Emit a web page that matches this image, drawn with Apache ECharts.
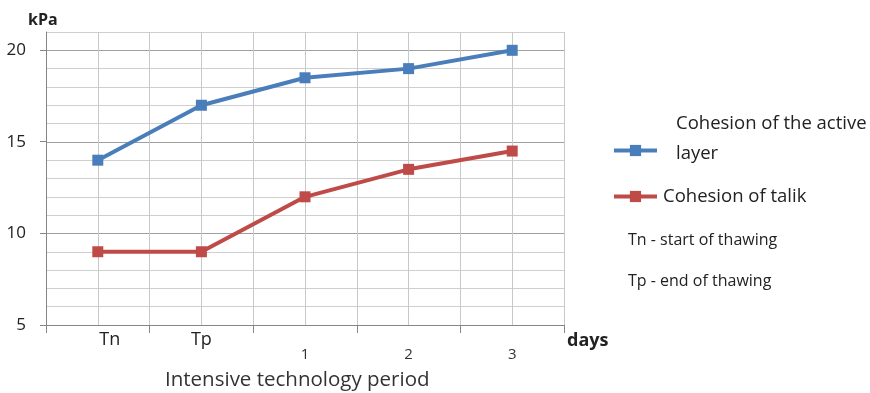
<!DOCTYPE html>
<html>
<head>
<meta charset="utf-8">
<script src="https://cdn.jsdelivr.net/npm/echarts@6/dist/echarts.min.js"></script>
<style>
  html, body { margin: 0; padding: 0; background: #fff; }
  #chart { width: 870px; height: 393px; }
</style>
</head>
<body>
<div id="chart"></div>
<script>
// Stages of the thawing period and the days that follow
const categories = ['Tn', 'Tp', '1', '2', '3'];
// Cohesion values, kPa
const activeLayer = [14, 17, 18.5, 19, 20];
const talik = [9, 9, 12, 13.5, 14.5];
const yTickLabels = [5, 10, 15, 20];

const seriesNames = ['Cohesion of the active layer', 'Cohesion of talik'];
const FONT = '"Open Sans", "Noto Sans", sans-serif';
const BLUE = '#4a7ebb';
const RED = '#be4b48';

const chart = echarts.init(document.getElementById('chart'), null, { renderer: 'canvas' });

const gridPos = { left: 46, right: 306, bottom: 68 };

chart.setOption({
  animation: false,
  backgroundColor: '#fff',
  textStyle: { fontFamily: FONT },
  grid: [
    Object.assign({ top: 32 }, gridPos),
    Object.assign({ top: 50 }, gridPos)
  ],
  xAxis: [
    {
      type: 'category',
      gridIndex: 0,
      data: categories,
      boundaryGap: true,
      axisLine: { lineStyle: { color: '#868686', width: 1 } },
      axisTick: { show: true, length: 8, lineStyle: { color: '#868686' } },
      splitLine: { show: false },
      axisLabel: {
        margin: 4,
        formatter: function (v) {
          if (v === 'Tn') return '{tn|' + v + '}';
          return /^\d+$/.test(v) ? '{num|' + v + '}' : '{stage|' + v + '}';
        },
        rich: {
          stage: { fontSize: 18, lineHeight: 22, color: '#222', fontFamily: FONT },
          tn: { fontSize: 18, lineHeight: 22, color: '#222', fontFamily: FONT, padding: [0, 0, 0, 24] },
          num: { fontSize: 15, lineHeight: 22, color: '#333', fontFamily: FONT, padding: [30, 0, 0, 0] }
        }
      }
    },
    {
      // vertical grid lines every half category
      type: 'value',
      gridIndex: 0,
      min: 0,
      max: 10,
      interval: 1,
      position: 'top',
      axisLine: { show: false },
      axisTick: { show: false },
      axisLabel: { show: false },
      splitLine: { show: true, lineStyle: { color: '#c8c8c8', width: 1 } }
    },
    {
      type: 'value',
      gridIndex: 1,
      show: false
    }
  ],
  yAxis: [
    {
      type: 'value',
      gridIndex: 0,
      min: 5,
      max: 21,
      interval: 1,
      axisLine: { show: true, lineStyle: { color: '#868686', width: 1 } },
      axisTick: { show: false },
      axisLabel: { show: false },
      splitLine: {
        show: true,
        lineStyle: { color: ['#a0a0a0', '#cfcfcf', '#cfcfcf', '#cfcfcf', '#cfcfcf'], width: 1 }
      }
    },
    {
      // labelled major ticks
      type: 'value',
      gridIndex: 1,
      min: yTickLabels[0],
      max: yTickLabels[yTickLabels.length - 1],
      interval: 5,
      axisLine: { show: false },
      axisTick: { show: true, length: 6, lineStyle: { color: '#868686' } },
      splitLine: { show: false },
      axisLabel: { margin: 20, fontSize: 17, color: '#222', fontFamily: FONT }
    }
  ],
  legend: [
    {
      data: [seriesNames[0]],
      left: 612,
      top: 114,
      padding: 0,
      itemWidth: 43,
      itemHeight: 14,
      lineStyle: { width: 4 },
      formatter: function () { return '{a|Cohesion of the active}\n{a|layer}\n{b| }'; },
      textStyle: {
        fontSize: 18.5, color: '#222', fontFamily: FONT,
        padding: [0, 0, 0, 14],
        rich: {
          a: { fontSize: 18.5, lineHeight: 30, color: '#222', fontFamily: FONT },
          b: { fontSize: 18.5, lineHeight: 24 }
        }
      }
    },
    {
      data: [seriesNames[1]],
      left: 612,
      top: 187,
      padding: 0,
      itemWidth: 43,
      itemHeight: 14,
      lineStyle: { width: 4 },
      textStyle: {
        fontSize: 18.5, color: '#222', fontFamily: FONT,
        padding: [0, 0, 0, 1]
      }
    }
  ],
  graphic: [
    { type: 'text', left: 28, top: 12, style: { text: 'kPa', font: 'bold 16px ' + FONT, fill: '#222' } },
    { type: 'text', left: 567, top: 332, style: { text: 'days', font: 'bold 18px ' + FONT, fill: '#222' } },
    { type: 'text', left: 165, top: 370, style: { text: 'Intensive technology period', font: '20.5px ' + FONT, fill: '#333' } },
    { type: 'text', left: 628, top: 232, style: { text: 'Tn - start of thawing', font: '16px ' + FONT, fill: '#222' } },
    { type: 'text', left: 628, top: 273, style: { text: 'Tp - end of thawing', font: '16px ' + FONT, fill: '#222' } }
  ],
  series: [
    {
      name: seriesNames[0],
      type: 'line',
      xAxisIndex: 0,
      yAxisIndex: 0,
      data: activeLayer,
      symbol: 'rect',
      symbolSize: 11,
      lineStyle: { color: BLUE, width: 4 },
      itemStyle: { color: BLUE }
    },
    {
      name: seriesNames[1],
      type: 'line',
      xAxisIndex: 0,
      yAxisIndex: 0,
      data: talik,
      symbol: 'rect',
      symbolSize: 11,
      lineStyle: { color: RED, width: 4 },
      itemStyle: { color: RED }
    }
  ]
});
</script>
</body>
</html>
